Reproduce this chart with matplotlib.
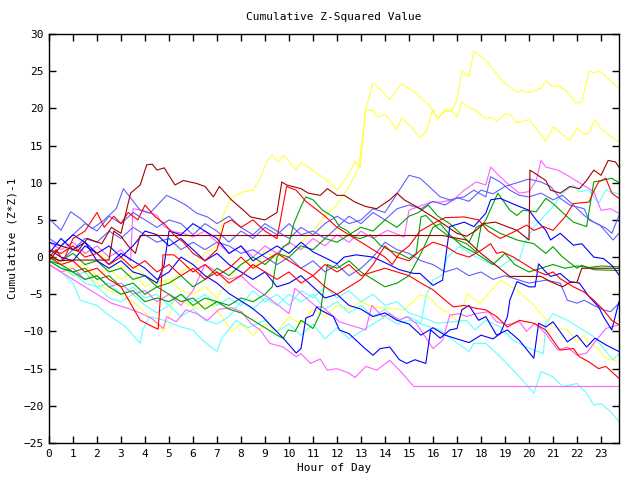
import matplotlib
matplotlib.use('Agg')
import matplotlib.pyplot as plt

# цвета линий (палитра gnuplot)
RED = '#ff0000'
DKRED = '#a00000'
GREEN = '#00a000'
BLUE = '#0000ff'
SLATE = '#6060ff'
MAGENTA = '#ff60ff'
CYAN = '#60ffff'
YELLOW = '#ffff40'

# (час, значение) — вершины
yellow1 = [(0, 0), (0.5, -1), (1, -1.5), (1.5, -1), (2, -2.5), (2.5, -1.5), (3, -3), (3.5, -2), (4, -4), (4.5, -3),
           (5, -3.5), (5.5, -2), (6, -1), (6.5, 0.5), (7, 1.5), (7.3, 6), (7.6, 8), (8.1, 8.8), (8.5, 9), (8.8, 10.6),
           (9.1, 13), (9.3, 13.7), (9.55, 12.8), (9.76, 13.7), (10.3, 11.8), (10.5, 12.7), (10.9, 11.9), (11.6, 10.3),
           (12, 9), (12.4, 10.8), (12.6, 11.9), (12.75, 12.9), (12.96, 12), (13.2, 19.8), (13.5, 23.5), (14.2, 21.2),
           (14.7, 23.3), (15.3, 22), (15.9, 20.2), (16.2, 18.6), (16.5, 19.8), (16.8, 19.8), (17, 21.1), (17.2, 25),
           (17.5, 24.3), (17.7, 27.7), (18.2, 26.5), (18.9, 23.6), (19.5, 22.2), (19.7, 22.4), (20, 22.1), (20.5, 22.7),
           (20.7, 23.7), (21, 22.9), (21.2, 23.1), (21.6, 22.2), (21.96, 20.7), (22.2, 20.9), (22.5, 25), (22.7, 24.8),
           (22.96, 25), (23.3, 24), (23.75, 22.7)]
yellow2 = [(0, -0.5), (0.5, 0.5), (1, 1.5), (1.5, 0.5), (2, 1), (2.5, -0.5), (3, -1.5), (3.5, -1), (4, -2.5), (4.5, -3.5),
           (5, -3), (5.5, -4.5), (6, -5), (6.5, -4), (7, -5.5), (7.5, -3), (8, -1), (8.3, -0.5), (8.6, -1.5), (9, 1),
           (9.5, -0.5), (10, 0.5), (10.5, 2), (11, 3.5), (11.5, 5.5), (12, 7), (12.5, 9.5), (12.9, 12), (13.2, 19.8),
           (13.5, 19.7), (13.7, 18.8), (14, 19.2), (14.5, 17.2), (14.7, 18.7), (15.1, 17.5), (15.46, 16.1), (15.7, 16.8),
           (16, 19.8), (16.2, 18.6), (16.5, 19.6), (16.8, 19.6), (17, 18.8), (17.2, 20.9), (17.5, 20.1), (17.75, 19.8),
           (18.2, 18.6), (18.4, 18.8), (18.65, 18.3), (19, 19.2), (19.2, 19.2), (19.5, 18.1), (20, 18.5), (20.7, 15.6),
           (21, 17.5), (21.2, 17), (21.7, 15.7), (22, 17.4), (22.3, 16.5), (22.5, 16.7), (22.75, 18.5), (23, 17.3),
           (23.4, 16.2), (23.75, 15.5)]
yellow3 = [(0, -0.5), (0.5, -1.5), (1, -2.5), (1.5, -2), (2, -3.5), (2.5, -4.5), (3, -5), (3.5, -6), (4.2, -8), (4.76, -10),
           (5.1, -7.1), (5.2, -5.3), (5.7, -6.2), (6.2, -7), (6.7, -6), (7.2, -8), (7.6, -10), (8, -9), (8.5, -10.5),
           (9, -9), (9.5, -10), (10, -8), (10.5, -9), (11, -7), (11.5, -8), (12, -6.5), (12.5, -7), (13, -6),
           (13.5, -6.7), (14.8, -7.1), (15.46, -5.1), (15.9, -5.5), (16.2, -6.7), (16.7, -7.6), (17.1, -8.9), (17.4, -4.9),
           (17.96, -6.2), (18.8, -3.1), (19.5, -4.4), (20.2, -6.5), (20.6, -8), (21, -9.4), (21.6, -9.8), (22, -11.4),
           (22.3, -10.5), (22.5, -11.6), (22.8, -12.1), (23.2, -13.6), (23.75, -14.1)]

cyan1 = [(0, -1), (0.5, -2), (1, -3.5), (1.3, -5.8), (2, -6.5), (2.4, -7.6), (3.2, -9.4), (3.8, -11.6), (3.9, -9.8),
         (4.2, -8), (4.8, -8.5), (5.5, -9.4), (6, -9.8), (6.4, -11.2), (7, -12.7), (7.2, -10.9), (7.8, -8.5), (8.3, -9.5),
         (9, -8.5), (9.5, -10), (10, -9), (10.5, -10.5), (11, -9), (11.5, -11), (12, -9.5), (12.5, -11), (13, -10),
         (13.5, -9), (14, -8), (14.5, -9), (15, -8.5), (15.5, -9), (16.3, -9.8), (16.85, -11.2), (17.5, -12.7),
         (17.7, -11.6), (18.2, -11.6), (18.8, -13.4), (19.6, -16.1), (20.2, -18.3), (20.5, -15.4), (21, -16.1),
         (21.4, -17.4), (22, -17), (22.4, -18.3), (22.7, -19.9), (23, -19.7), (23.4, -20.8), (23.75, -22.1)]
cyan2 = [(0, -0.5), (0.5, -1.5), (1, -2), (1.5, -3.5), (2, -4), (2.5, -5.5), (3, -6), (3.5, -5), (4, -6.5), (4.5, -7.5),
         (5, -6.5), (5.5, -8), (6, -7), (6.5, -8.5), (7, -9), (7.5, -8), (8, -6), (8.5, -7), (9, -5.5), (9.5, -6.5),
         (10, -5), (10.5, -6), (11, -5), (11.5, -7), (12, -6), (12.5, -7.5), (13, -6.5), (13.5, -8), (14, -7),
         (14.5, -8.5), (15, -8), (15.5, -8.9), (15.7, -5.3), (16, -3.1), (16.4, -2.4), (16.6, 0), (17.1, 1.4), (17.8, 0),
         (18.4, -0.9), (18.8, -1.3), (19.2, -0.4), (19.6, -0.4), (19.8, 1.8), (20.2, 4), (20.6, 5.4), (21, 6.8),
         (21.4, 8.6), (21.85, 9.7), (22.1, 8.8), (22.5, 9), (22.9, 7.2), (23.2, 9), (23.75, 8.5)]
cyan3 = [(0, 0), (0.5, -1), (1, -2.5), (1.5, -2), (2, -4), (2.5, -3.5), (3, -5), (3.5, -4), (4, -5.5), (4.5, -5),
         (5, -6.5), (5.5, -5), (6, -6), (6.5, -5), (7, -6.5), (7.5, -5.5), (8, -6.5), (8.5, -4.5), (9, -6), (9.5, -5),
         (10, -6.5), (10.5, -4.5), (11, -5.5), (11.5, -4), (12, -5.5), (12.5, -4.5), (13, -6), (13.5, -5), (14, -6.5),
         (14.5, -6), (15, -7.5), (15.46, -8), (16.2, -8.9), (17.4, -8.5), (17.75, -9.8), (18.2, -8.5), (18.8, -9.4),
         (19.35, -11.2), (19.9, -12.1), (20.6, -13), (20.7, -8.9), (21, -7.6), (21.6, -8.5), (22.7, -10.7),
         (23.5, -13.8), (23.75, -13)]

magenta1 = [(0, -1), (0.5, -2), (1, -3), (1.7, -4.4), (2.6, -6.2), (3.2, -6.8), (3.8, -7.5), (4.3, -8.3), (4.76, -9.6),
            (4.9, -8), (5.3, -8.7), (5.7, -7.1), (6.15, -7.6), (6.6, -8.5), (7.1, -7), (7.6, -6.8), (8.03, -7.35),
            (8.4, -8.9), (8.8, -9.8), (9.2, -11.6), (9.76, -12.1), (10.3, -13.4), (10.5, -13), (10.9, -14.3),
            (11.3, -13.7), (11.6, -15.2), (12, -15), (12.5, -15.6), (12.75, -16.2), (13.2, -14.7), (13.65, -15.2),
            (14.2, -13.9), (14.6, -15.2), (15.2, -17.4), (23.75, -17.4)]
magenta2 = [(0, 2), (0.5, 1), (1, 2), (1.5, 0.5), (2, 1.5), (2.5, 0), (3, 1), (3.4, -0.5), (3.5, 6.5), (3.9, 6.3),
            (4.5, 5.6), (4.8, 4.1), (5.2, 3.4), (5.6, 3.2), (6, 2.7), (6.5, 3.5), (7, 2), (7.5, 0.5), (8, 1.5), (8.5, 0),
            (9, 1.5), (9.5, 0.5), (10, 2), (10.5, 1), (11, 2.5), (11.5, 1.5), (12, 3), (12.5, 2), (13, 3.5),
            (13.5, 2.5), (14.1, 3.6), (14.8, 2.7), (15, 6.3), (15.9, 7.4), (16.3, 7.4), (16.85, 7.7), (17.3, 9),
            (17.8, 10.1), (18.2, 9.7), (18.4, 12.1), (18.8, 10.8), (19.1, 9.9), (19.6, 8.6), (20, 8.8), (20.3, 10.3),
            (20.5, 13), (20.7, 12.1), (21.2, 11.7), (21.6, 11), (22.7, 8.8), (23, 6.3), (23.4, 6.5), (23.75, 5.9)]
magenta3 = [(0, -1), (0.5, -2), (1, -1.5), (1.5, -3), (2, -2.5), (2.5, -4), (3, -3.5), (3.5, -5), (4, -4.5), (4.5, -6),
            (5, -5), (5.5, -6.5), (6, -4.5), (6.5, -1), (7, -2), (7.5, -3), (8, -2.5), (8.5, -4), (9.2, -5.6),
            (10, -7.6), (10.25, -4.2), (11.15, -6.7), (11.4, -6.7), (12.1, -8.7), (13.2, -9.8), (13.45, -6.5),
            (13.9, -8), (14.2, -7.6), (14.6, -8.5), (14.9, -8), (15.3, -8.9), (16, -12.3), (16.4, -11.2), (16.7, -7.8),
            (17.1, -7.6), (17.4, -8), (17.8, -7.6), (18.3, -7.35), (18.65, -8.7), (19.1, -9.1), (19.6, -8.7),
            (19.9, -10), (20.25, -8.9), (20.7, -10.3), (21.2, -12.5), (21.6, -12.1), (22, -13.2), (22.4, -12.9),
            (22.8, -11.2), (23.2, -9.6), (23.75, -9.1)]

blue1 = [(0, 0.5), (0.5, 2.5), (1, 1), (1.5, 2), (2, -0.5), (2.5, -1.5), (3, -0.5), (3.5, -2), (4, -2.5), (4.5, -3.5),
         (4.8, -1), (5, 3.5), (5.5, 3), (6, 4.5), (6.5, 3.5), (7, 2.5), (7.5, 0.5), (8, 1.5), (8.5, -0.5), (9, 0.5),
         (9.5, 1.5), (10, 0.5), (10.5, 2), (11, 0.7), (11.7, -0.4), (12, -0.9), (12.3, 0), (12.8, 0.3), (13.5, 0),
         (14.1, -0.9), (14.6, -1.7), (15.2, -2.2), (15.46, -2.2), (16, -3.8), (16.4, -3.1), (16.7, 4.1), (17.3, 4.7),
         (17.7, 4.1), (18.2, 5.9), (18.4, 7.7), (18.8, 7.9), (19.3, 7.2), (19.6, 6.8), (20, 6.3), (20.3, 5), (20.7, 3.6),
         (20.9, 2.3), (21.3, 3.2), (21.85, 1.6), (22.2, 1.8), (22.7, 0), (23.1, -0.2), (23.45, -1.1), (23.75, -2.4)]
blue2 = [(0, 1), (0.5, 0), (1, -0.5), (1.5, 1.5), (2, 0.5), (2.5, -1), (3, 0.5), (3.5, -0.5), (4, -1.5), (4.5, -3),
         (5, -2), (5.5, 0), (6, -1), (6.5, -2.5), (7, -3.5), (7.5, -4.9), (8.4, -6.7), (8.9, -8), (9.3, -9.4),
         (9.76, -10.9), (10.3, -12.9), (10.5, -12.3), (10.6, -10.3), (10.7, -8.2), (11, -7.8), (11.15, -6.7),
         (11.3, -7.1), (11.85, -8), (12.1, -9.8), (12.5, -10.3), (13.1, -12.1), (13.5, -13.2), (13.8, -12.3),
         (14.2, -12.1), (14.6, -13.8), (14.9, -14.3), (15.25, -13.8), (15.7, -14.3), (15.9, -9.8), (16.3, -10.9),
         (16.7, -9.8), (17, -9.6), (17.2, -7.1), (17.5, -6.5), (17.9, -8.5), (18.2, -8), (18.65, -10.5), (19.1, -9.8),
         (19.6, -11.2), (20.2, -13.6), (20.4, -8.9), (20.7, -9.4), (21, -8.7), (21.6, -11.4), (22, -10.5),
         (22.4, -12.1), (22.75, -10.9), (23.2, -11.8), (23.75, -12.7)]
blue3 = [(0, 2), (0.5, 1.5), (1, 3), (1.5, 2), (2, 0.5), (2.5, 1.5), (3, 0), (3.5, 1.5), (4, 3.5), (4.5, 3), (5, 1.5),
         (5.5, 2.5), (6, 1), (6.5, -0.5), (7, 0.5), (7.5, -1), (8, -2), (8.5, -3), (9, -2), (9.5, -4), (10, -3.5),
         (10.5, -2.5), (11, -4), (11.5, -5.5), (12, -5), (12.5, -6.5), (13, -7), (13.5, -8), (14, -7.5), (14.5, -8.5),
         (15, -9), (15.5, -10.5), (16, -9.5), (16.5, -10.5), (17, -11), (17.5, -11.5), (18, -10.5), (18.5, -11),
         (18.8, -10.3), (19.1, -8), (19.2, -5.8), (19.5, -3.3), (20, -4), (20.25, -4), (20.4, -0.9), (20.7, -2),
         (20.9, -2.6), (21.3, -2.2), (21.7, -3.3), (22.1, -3.5), (22.5, -5.3), (22.9, -6.7), (23.1, -8), (23.45, -9.8),
         (23.75, -6)]

slate1 = [(0, 5.2), (0.5, 3.6), (0.9, 6.1), (1.3, 5.2), (1.8, 3.8), (2.3, 5), (2.8, 6.5), (3.1, 9.2), (3.8, 6.3),
          (4.2, 5.9), (4.9, 8.3), (5.3, 7.7), (5.7, 7), (6.15, 5.9), (6.6, 5.4), (7, 4.5), (7.5, 5.5), (8, 4), (8.5, 3),
          (9, 4.5), (9.5, 3.5), (10, 2.5), (10.5, 4), (11, 3), (11.5, 4.5), (12, 5.5), (12.5, 4.5), (13, 5),
          (13.5, 6.5), (14, 6), (14.5, 8.5), (15, 11), (15.46, 10.6), (15.7, 9.9), (16, 9), (16.3, 8.1), (16.7, 7.7),
          (17.3, 8.1), (17.7, 9), (18.2, 8.1), (18.4, 10.8), (18.8, 10.1), (19.2, 9), (19.6, 8.3), (20, 8.1),
          (20.5, 8.6), (21, 7.7), (21.4, 8.3), (21.85, 7), (22.3, 5.6), (22.7, 4.7), (23.2, 3.9), (23.45, 3.2),
          (23.75, 5.6)]
slate2 = [(0, 2.5), (0.5, 1.5), (1, 3), (1.5, 4.5), (2, 3.5), (2.5, 5.5), (3, 4.5), (3.5, 6), (4, 5), (4.5, 4), (5, 5),
          (5.5, 4.5), (6, 3), (6.5, 4.5), (7, 3.5), (7.5, 2), (8, 3.5), (8.5, 2.5), (9, 4), (9.5, 3), (10, 4.5),
          (10.5, 3), (11, 3.5), (11.5, 2.5), (12, 4), (12.5, 5.5), (13, 4.5), (13.5, 6), (14, 5), (14.5, 6.5), (15, 7),
          (15.5, 6.5), (16, 7.5), (16.5, 7), (17, 8), (17.5, 7.5), (18, 9), (18.5, 8.5), (19, 9.5), (19.5, 10),
          (20, 10.5), (20.5, 10.1), (20.9, 9.5), (21.3, 7.9), (21.7, 7), (22.3, 6.5), (22.5, 5), (22.96, 4.3),
          (23.5, 2.3), (23.75, 3.2)]
slate3 = [(0, 0), (0.5, -0.5), (1, 1), (1.5, 2.5), (2, 2), (2.5, 3.5), (3, 2.5), (3.5, 4), (4, 3), (4.5, 2), (5, 2.5),
          (5.5, 1), (6, 2), (6.5, 1), (7, 2), (7.5, 1.5), (8, 0.5), (8.5, 1), (9, 0), (9.5, -1), (10, 0), (10.5, -1.5),
          (11, -0.5), (11.5, -2), (12, -1), (12.5, -2.5), (13, -1.5), (13.5, 0), (14, 2), (14.5, 1), (15, 0.5),
          (15.5, -0.5), (16, -1), (16.5, -2), (17, -1.5), (17.5, -2.5), (18, -2), (18.5, -3), (19, -2.5), (19.5, -3),
          (20, -3.5), (20.7, -3.1), (21.3, -3.5), (21.6, -5.8), (22, -6.2), (22.3, -5.8), (22.7, -6.5), (23.1, -7.1),
          (23.4, -7.35), (23.75, -6.2)]

red1 = [(0, 0), (0.3, 1), (0.6, -0.5), (1, 2.5), (1.5, 3.5), (2, 6), (2.3, 4), (2.7, 5.5), (3, 4.5), (3.3, 6), (3.7, 5),
        (4, 7), (4.4, 5.5), (4.8, 4.5), (5.2, 3), (5.6, 2), (6, 0.5), (6.5, -0.5), (7, 1), (7.3, 4.5), (7.6, 5),
        (8, 4), (8.5, 5), (9, 3.5), (9.5, 2.5), (9.9, 9.5), (10.3, 9), (10.7, 7.5), (11.1, 6.5), (11.5, 5.5), (12, 4),
        (12.5, 3), (13, 2), (13.5, 1), (14, 0), (14.3, -1), (14.6, 0.5), (15, 1.5), (15.46, 3.5), (16, 4.5),
        (16.5, 5.3), (17.3, 5.4), (17.9, 5), (18.3, 3.5), (18.8, 2.5), (19.5, 3.6), (19.9, 4.3), (20.2, 3.6),
        (20.6, 4.1), (21, 3.6), (21.5, 5.4), (21.85, 7.2), (22.5, 7.4), (22.75, 9.2), (22.9, 10.1), (23.2, 10.6),
        (23.45, 8.6), (23.75, 7.9)]
red2 = [(0, 0), (0.5, -1), (1, -0.5), (1.5, -2), (2, -1.5), (2.5, -3), (3, -4), (3.8, -8.5), (4.35, -9.4), (4.55, -9.7),
        (4.65, -5), (4.75, 0.3), (5.2, 0.3), (5.5, -0.5), (6, -2), (6.5, -1), (7, -2.5), (7.5, -1.5), (8, 0),
        (8.5, -1.5), (9, -0.5), (9.5, 0.5), (10, -0.5), (10.5, -1.5), (11, -2.5), (11.5, -4), (12, -5), (12.5, -4),
        (13, -3), (13.5, -1), (14, 1.5), (14.5, 0), (15, -0.5), (15.5, 1), (16, 2), (16.5, 1.5), (17, 0.5),
        (17.5, 0), (18, 0.9), (18.4, 1.8), (18.65, 0.5), (18.9, 0.7), (19.35, 0), (19.8, -0.9), (20.2, -1.7),
        (20.7, -2.4), (21, -2), (21.3, -2.9), (21.85, -4), (22.3, -4.7), (22.7, -5.8), (23.1, -7.1), (23.45, -8.5),
        (23.75, -9.1)]
red3 = [(0, 1), (0.5, 0.5), (1, 1.5), (1.5, 0), (2, 0.5), (2.5, -1), (3, 0), (3.5, -1.5), (4, -0.5), (4.5, -2),
        (5, -1), (5.5, -2.5), (6, -1.5), (6.5, -3), (7, -2), (7.5, -3.5), (8, -2.5), (8.5, -1), (9, -2), (9.5, -3),
        (10, -2), (10.5, -3.5), (11, -2.5), (11.5, -1), (12, -2), (12.5, -1), (13, -2.5), (13.5, -2), (14, -1.5),
        (15, -2.5), (15.5, -3.5), (16, -4.4), (16.4, -5.5), (16.85, -6.7), (17.3, -6.5), (17.8, -6.9), (18.2, -7.1),
        (18.65, -8), (19.1, -9.4), (19.6, -8.5), (20.2, -8.9), (20.7, -9.8), (21.2, -12.1), (21.3, -12.5),
        (21.85, -12.3), (22.1, -13.4), (22.5, -14.1), (22.9, -15), (23.2, -14.7), (23.75, -16.3)]

green1 = [(0, -0.5), (0.5, -1), (1, -2), (1.5, -1.5), (2, -3), (2.5, -2.5), (3, -4), (3.5, -3.5), (4, -5), (4.5, -4),
          (5, -5), (5.5, -6), (6, -5.5), (6.5, -7), (7, -6), (7.5, -6.5), (8, -5.5), (8.5, -6), (9, -5), (9.3, -4),
          (9.5, 0), (9.76, 1.4), (10, 1.8), (10.2, 4.5), (10.5, 6.8), (10.7, 8.1), (11, 7.7), (11.4, 6.3), (11.85, 5.4),
          (12.1, 4.1), (12.4, 3.6), (12.7, 2.7), (12.96, 2.5), (13.4, 3), (13.8, 1.6), (14.2, 0.9), (14.6, 0.5),
          (15, -0.2), (15.3, 0.5), (15.5, 5.4), (15.7, 5.6), (16.2, 3.9), (16.7, 2.7), (17.4, 1.8), (17.8, 0.7),
          (18, 4.1), (18.2, 5), (18.7, 8.6), (18.9, 7.7), (19.2, 6.3), (19.5, 5.6), (19.75, 6.3), (20.3, 6.1),
          (20.7, 7.9), (21, 7.2), (21.3, 6.3), (21.6, 5.4), (21.85, 4.7), (22.4, 4.1), (22.7, 10.1), (23.45, 10.6),
          (23.75, 10)]
green2 = [(0, 0), (0.5, -0.5), (1, 0.5), (1.5, -1), (2, -0.5), (2.5, -2), (3, -1.5), (3.5, -3), (4, -2.5), (4.5, -4),
          (5, -3.5), (5.5, -2.5), (6, -4), (6.5, -3), (7, -1.5), (7.5, -2.5), (8, -1), (8.5, 0), (9, -1), (9.5, 0.5),
          (10, 0), (10.5, 1.5), (11, 1), (11.5, 2.5), (12, 2), (12.5, 3), (13, 4), (13.5, 3.5), (14, 5), (14.5, 4),
          (15, 5.5), (15.4, 6), (15.8, 7), (16.2, 5.5), (16.7, 4.5), (17.2, 3), (17.5, 2), (17.8, 4), (18.1, 4.5),
          (18.8, 3.2), (19.5, 2.3), (20.2, 1.8), (20.7, 0.5), (21, 1.4), (21.4, 0), (22, -1.5), (22.2, -1.1),
          (22.7, -1.7), (23.75, -1.8)]
green3 = [(0, -0.5), (0.5, -1.5), (1, -2), (1.5, -3), (2, -2.5), (2.5, -4), (3, -5), (3.5, -4.5), (4, -6), (4.5, -5.5),
          (5, -6), (5.5, -5), (6, -6.5), (6.5, -5.5), (7, -6), (7.5, -7), (8, -7.5), (8.5, -8.5), (9, -9.5),
          (9.5, -10.5), (9.76, -10.9), (9.97, -9.8), (10.25, -10), (10.5, -8.5), (10.7, -8.9), (11, -9.6), (11.3, -7.6),
          (11.4, -5.3), (11.6, -1), (12, -1.5), (12.5, -0.5), (13, -2), (13.5, -3), (14, -4), (14.5, -3.5),
          (15, -2.5), (15.5, 0.5), (16, 4), (16.3, 4.5), (16.7, 3), (17.2, 1.5), (17.8, 0.5), (18.5, -1), (19, 0.5),
          (19.4, -1), (20, -2), (20.5, -1.5), (21, -1), (21.5, -1.5), (22, -1.2), (22.5, -1.4), (23, -1.2),
          (23.75, -1.3)]

dkred1 = [(0, -0.5), (0.5, 1.5), (1.2, 0.8), (1.6, 2.5), (2.2, 1.8), (2.6, 4), (3, 3.2), (3.4, 8.6), (3.8, 9.7),
          (4.07, 12.4), (4.3, 12.5), (4.5, 11.7), (4.8, 12), (5.25, 9.7), (5.6, 10.3), (6.15, 9.9), (6.5, 9.5),
          (6.85, 8.1), (7.1, 9.5), (7.6, 7.7), (8.1, 6.3), (8.4, 5.4), (9, 5), (9.5, 6), (9.7, 10.1), (9.9, 9.7),
          (10.5, 9.2), (10.8, 8.6), (11.3, 8.3), (11.6, 9.2), (12, 8.3), (12.3, 8.3), (12.75, 7.4), (13.2, 6.8),
          (13.65, 6.5), (14.2, 7.7), (14.5, 8.6), (14.8, 7.7), (15.3, 6.8), (15.9, 5.6), (16.5, 4.3), (17, 3.2),
          (17.4, 2.8), (17.8, 3.6), (18.1, 4.5), (18.6, 4.7), (19, 4.2), (19.5, 3.6), (20, 2.3), (20.04, 11.7),
          (20.7, 10.3), (20.9, 9), (21.3, 8.6), (21.7, 9.5), (22.1, 9.2), (22.4, 10.3), (22.7, 11.7), (23, 11),
          (23.3, 13), (23.6, 12.8), (23.75, 12.1)]
dkred2 = [(0, 0.5), (0.4, -0.5), (1, -0.4), (2.5, -0.4), (2.7, 3.5), (3, 2.8), (3.3, 1.5), (3.6, 0.5), (3.8, 2.9),
          (16.4, 2.9), (17.4, 2.3), (18, 0.5), (19.2, -2.6), (20.5, -2.6), (20.9, -3.3), (21.4, -4), (21.7, -3.4),
          (22, -3.4), (22.2, -1.5), (23.75, -1.5)]

lines = [
    (yellow1, YELLOW), (yellow2, YELLOW), (yellow3, YELLOW),
    (cyan1, CYAN), (cyan2, CYAN), (cyan3, CYAN),
    (magenta1, MAGENTA), (magenta2, MAGENTA), (magenta3, MAGENTA),
    (slate1, SLATE), (slate2, SLATE), (slate3, SLATE),
    (green1, GREEN), (green2, GREEN), (green3, GREEN),
    (blue1, BLUE), (blue2, BLUE), (blue3, BLUE),
    (red1, RED), (red2, RED), (red3, RED),
    (dkred1, DKRED), (dkred2, DKRED),
]

hours = list(range(24))
yticks = list(range(-25, 31, 5))

plt.rcParams['font.family'] = 'DejaVu Sans Mono'
plt.rcParams['font.size'] = 8

fig = plt.figure(figsize=(6.4, 4.8), dpi=100)
ax = fig.add_axes([49 / 640, 37 / 480, 570 / 640, 409 / 480])

for pts, col in lines:
    xs, ys = zip(*pts)
    ax.plot(xs, ys, color=col, lw=0.8)

ax.set_xlim(0, 23.75)
ax.set_ylim(-25, 30)
ax.set_xticks(hours)
ax.set_yticks(yticks)
ax.tick_params(direction='in', top=True, right=True, length=5, width=1, colors='black', pad=4)
for s in ax.spines.values():
    s.set_linewidth(1)

ax.set_title('Cumulative Z-Squared Value', fontsize=8, pad=10)
ax.set_xlabel('Hour of Day', labelpad=3)
ax.set_ylabel('Cumulative (Z*Z)-1', labelpad=4)

fig.savefig('out.png', dpi=100)
